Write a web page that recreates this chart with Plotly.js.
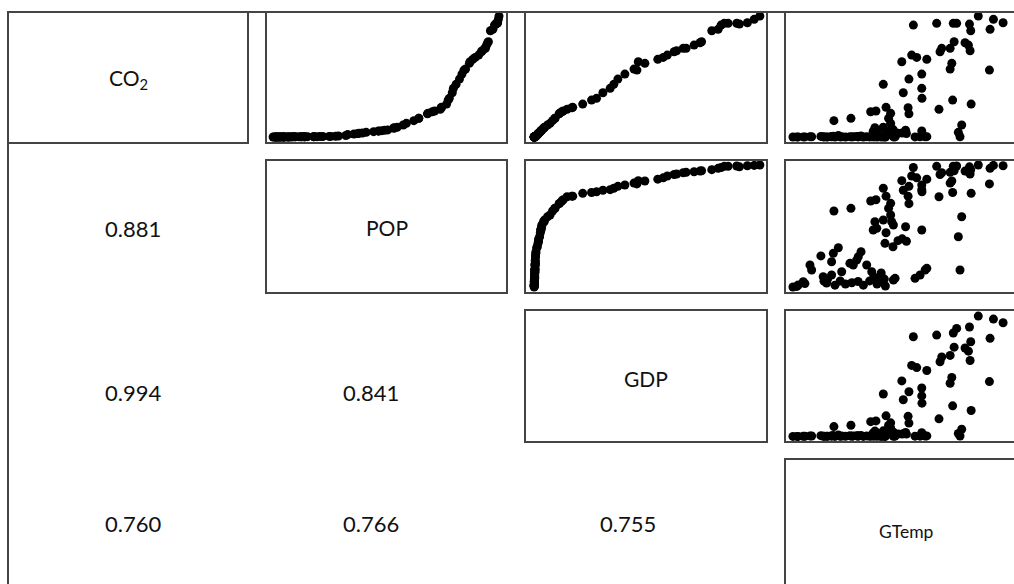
<!DOCTYPE html>
<html>
<head>
<meta charset="utf-8">
<script src="https://cdn.plot.ly/plotly-3.0.1.min.js"></script>
<style>
  html, body { margin: 0; padding: 0; background: #fff; overflow: hidden; width: 1014px; height: 584px; }
  #chart { width: 1040px; height: 600px; }
</style>
</head>
<body>
<div id="chart"></div>
<script>
// Variables (rescaled 0-100 index; the reference has no tick scales)
const varNames = ["CO<sub>2</sub>", "POP", "GDP", "GTemp"];

const gtemp = [0.0, 1.9, 2.5, 4.9, 5.7, 8.1, 8.9, 13.3, 14.4, 18.4, 18.4, 19.2, 21.6, 23.2, 16.0, 20.0, 22.5, 25.0, 28.0, 31.0,
  33.5, 27.1, 28.7, 30.3, 31.1, 32.4, 35.1, 37.5, 36.5, 38.5, 40.0, 41.5, 42.5, 44.0, 47.8, 48.6, 58.1, 60.5, 62.9, 63.7,
  79.5, 16.5, 14.8, 42.0, 43.5,
  43.8, 47.6, 44.3, 39.0, 39.9, 38.2, 43.0, 47.8, 47.0, 50.0, 52.0, 54.0, 53.6, 61.3, 78.7, 80.3, 46.5, 19.5, 27.6, 45.5,
  37.0, 39.5, 46.5, 44.3, 54.8, 55.2, 69.5, 84.8, 76.0, 61.4, 52.5, 61.3, 43.0, 55.2, 61.3, 93.5, 74.8, 75.6, 51.8, 63.7,
  58.9, 56.5, 70.0, 84.3, 70.8, 74.8, 83.5, 81.9, 76.7, 84.6, 93.8, 57.3, 84.0, 68.4, 76.3, 77.9, 100.0, 95.4, 88.2];

const pop = [0.0, 0.5, 1.6, 4.3, 2.8, 18.0, 13.9, 25.5, 8.4, 9.8, 20.7, 27.6, 32.2, 12.5, 3.3, 1.5, 4.9, 2.5, 3.5, 4.5,
  1.5, 19.4, 18.0, 22.0, 24.8, 28.9, 18.0, 12.5, 5.0, 8.0, 2.5, 9.0, 4.0, 0.8, 5.7, 7.1, 7.1, 9.8, 13.9, 15.3,
  13.9, 6.5, 4.8, 11.5, 6.5,
  35.8, 33.0, 44.5, 53.5, 48.1, 46.7, 54.9, 50.8, 53.5, 38.0, 39.5, 37.5, 49.4, 46.7, 41.2, 57.6, 59.0, 62.3, 64.5, 64.5,
  70.5, 71.5, 68.6, 74.5, 74.5, 68.3, 74.0, 76.8, 77.5, 78.0, 79.3, 79.8, 81.0, 82.5, 83.6, 84.5, 85.2, 86.9, 87.2, 88.4,
  89.5, 91.0, 92.2, 92.6, 93.7, 94.0, 94.5, 95.0, 95.3, 96.2, 97.3, 98.0, 98.5, 98.9, 99.0, 99.2, 99.4, 99.7, 100.0];

const co2 = [0.0, 0.0, 0.1, 0.1, 0.1, 0.3, 0.2, 0.5, 0.2, 0.2, 0.4, 0.6, 1.2, 0.2, 0.1, 0.0, 0.1, 0.0, 0.1, 0.1,
  0.0, 0.3, 0.3, 0.4, 0.5, 0.8, 0.3, 0.2, 0.1, 0.1, 0.0, 0.2, 0.1, 0.0, 0.1, 0.1, 0.1, 0.2, 0.2, 0.3,
  0.2, 0.1, 0.1, 0.2, 0.1,
  2.5, 2.0, 4.4, 7.6, 5.2, 4.8, 8.0, 5.8, 7.1, 3.0, 3.2, 2.9, 5.5, 5.0, 3.8, 9.8, 11.2, 13.4, 15.3, 15.3,
  20.7, 21.3, 19.4, 24.3, 24.0, 19.0, 22.7, 27.0, 30.3, 31.7, 36.3, 39.9, 43.2, 47.5, 51.6, 54.9, 55.7, 60.4, 61.7, 63.7,
  65.3, 67.2, 69.9, 70.7, 72.7, 72.7, 75.4, 77.3, 78.1, 87.1, 88.3, 91.8, 92.6, 93.2, 93.2, 93.2, 93.7, 96.5, 99.2];

const gdp = [0.5, 0.5, 0.5, 0.6, 0.6, 0.9, 0.8, 1.1, 0.7, 0.7, 1.0, 1.2, 1.6, 0.8, 0.6, 0.5, 0.6, 0.6, 0.6, 0.6,
  0.5, 1.0, 0.9, 1.0, 1.1, 1.3, 0.9, 0.8, 0.6, 0.7, 0.6, 0.7, 0.6, 0.5, 0.6, 0.7, 0.7, 0.7, 0.8, 0.9,
  0.8, 0.6, 0.6, 0.8, 0.6,
  2.2, 1.9, 3.2, 4.9, 3.6, 3.4, 5.1, 3.9, 4.6, 2.4, 2.5, 2.4, 3.8, 3.5, 2.9, 6.4, 7.5, 8.6, 9.7, 9.6,
  12.7, 13.3, 11.7, 17.5, 17.1, 11.5, 15.0, 21.9, 25.8, 28.0, 30.8, 34.0, 35.6, 37.4, 40.5, 45.8, 44.5, 49.3, 46.4, 55.0,
  57.4, 59.2, 62.2, 63.3, 66.2, 67.5, 71.0, 73.6, 74.3, 78.8, 81.6, 82.9, 91.0, 84.3, 86.0, 89.8, 94.5, 97.5, 100.0];

// Correlation coefficients shown in the lower triangle (row, col)
const corrPairs = [[1, 0], [2, 0], [2, 1], [3, 0], [3, 1], [3, 2]];
const corrValues = ["0.881", "0.994", "0.841", "0.760", "0.766", "0.755"];

const vars = [co2, pop, gdp, gtemp];

// ---- layout geometry (pixels) ----
const W = 1040, H = 600;
const colPx = [[9, 247], [267, 506], [526, 766], [786, 1026]];
const rowPx = [[13, 142], [161, 292], [311, 441], [460, 590]];
const xRange = {1: [-2.7, 103.1], 2: [-3.1, 102.7], 3: [-3.3, 110.9]};
const yRange = {0: [-4.1, 101.7], 1: [-4.1, 103.3], 2: [-3.3, 104.2]};
const labelY = [0.49, 0.49, 0.48, 0.45];
const labelSize = [21, 21, 21, 17.5];
const corrTextX = [133, 371, 628];
const corrTextY = {1: 229, 2: 392, 3: 523};
const FRAME = '#444444';
const FONT = 'Lato, "Open Sans", "DejaVu Sans", sans-serif';

const xd = c => [colPx[c][0] / W, colPx[c][1] / W];
const yd = r => [1 - rowPx[r][1] / H, 1 - rowPx[r][0] / H];

const traces = [];
const layout = {
  width: W, height: H,
  margin: {l: 0, r: 0, t: 0, b: 0},
  paper_bgcolor: '#ffffff', plot_bgcolor: '#ffffff',
  showlegend: false,
  annotations: [],
  shapes: [
    {type: 'line', xref: 'paper', yref: 'paper', x0: 8 / W, x1: 1, y0: 1 - 12 / H, y1: 1 - 12 / H,
     line: {color: FRAME, width: 2}},
    {type: 'line', xref: 'paper', yref: 'paper', x0: 8 / W, x1: 8 / W, y0: 0, y1: 1 - 12 / H,
     line: {color: FRAME, width: 2}}
  ]
};

function axisBase(domain, range) {
  return {domain: domain, range: range, showline: true, mirror: true, linecolor: FRAME, linewidth: 2,
    showgrid: false, zeroline: false, showticklabels: false, ticks: '', fixedrange: true};
}

let k = 0;
for (let r = 0; r < 4; r++) {
  for (let c = r; c < 4; c++) {
    k++;
    const xa = k === 1 ? 'xaxis' : 'xaxis' + k;
    const ya = k === 1 ? 'yaxis' : 'yaxis' + k;
    const xr = 'x' + (k === 1 ? '' : k), yr = 'y' + (k === 1 ? '' : k);
    if (r === c) {
      layout[xa] = Object.assign(axisBase(xd(c), [0, 1]), {anchor: yr});
      layout[ya] = Object.assign(axisBase(yd(r), [0, 1]), {anchor: xr});
      traces.push({type: 'scatter', mode: 'markers', x: [], y: [], xaxis: xr, yaxis: yr, hoverinfo: 'skip'});
      layout.annotations.push({
        xref: xr + ' domain', yref: yr + ' domain', x: 0.5, y: labelY[r], showarrow: false,
        text: varNames[r], xanchor: 'center', yanchor: 'middle',
        font: {family: FONT, size: labelSize[r], color: '#111111'}
      });
    } else {
      layout[xa] = Object.assign(axisBase(xd(c), xRange[c]), {anchor: yr});
      layout[ya] = Object.assign(axisBase(yd(r), yRange[r]), {anchor: xr});
      traces.push({
        type: 'scatter', mode: 'markers', x: vars[c], y: vars[r], xaxis: xr, yaxis: yr,
        marker: {color: '#000000', size: 9, line: {width: 0}}, hoverinfo: 'skip'
      });
    }
  }
}

corrPairs.forEach((p, i) => {
  const [r, c] = p;
  layout.annotations.push({
    xref: 'paper', yref: 'paper', x: corrTextX[c] / W, y: 1 - corrTextY[r] / H, showarrow: false,
    text: corrValues[i], xanchor: 'center', yanchor: 'middle',
    font: {family: FONT, size: 22, color: '#111111'}
  });
});

Plotly.newPlot('chart', traces, layout, {staticPlot: true, displayModeBar: false});
</script>
</body>
</html>
